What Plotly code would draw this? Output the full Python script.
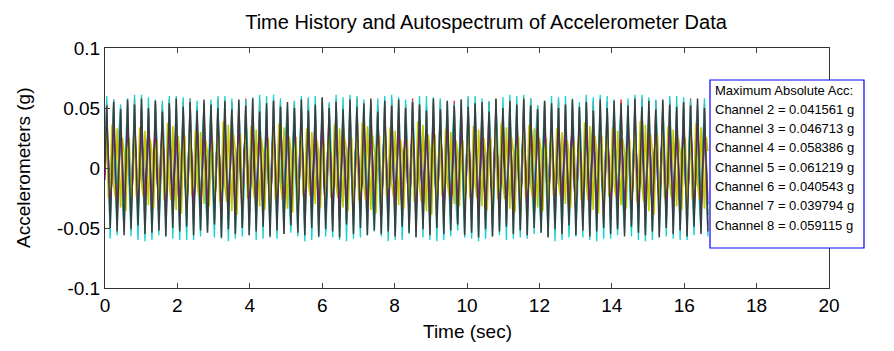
import numpy as np
import plotly.graph_objects as go

# ---------------- data (accelerations in milli-g) ----------------
dt = 0.048  # sampling interval (s)

ch8_mg = [
 0,52,1,-50, -1,55,0,-53, 1,49,-1,-56, 0,57,2,-51, -1,53,0,-48, 1,58,-1,-55,
 0,50,1,-54, -1,56,0,-52, 2,47,-1,-57, 0,54,1,-50, -1,58,0,-53, 1,51,-2,-49,
 0,55,1,-56, -1,48,0,-52, 1,57,-1,-54, 0,53,2,-47, -1,50,0,-58, 1,56,-1,-51,
 0,49,1,-55, -1,57,0,-50, 2,52,-1,-56, 0,58,1,-53, -1,47,0,-49, 1,54,-2,-57,
 0,56,1,-52, -1,51,0,-55, 1,55,-1,-48, 0,50,2,-54, -1,57,0,-56, 1,48,-1,-50,
 0,53,1,-57, -1,59,0,-51, 2,50,-1,-53, 0,55,1,-58, -1,49,0,-47, 1,57,-2,-55,
 0,51,1,-50, -1,54,0,-56, 1,58,-1,-52, 0,47,2,-55, -1,56,0,-53, 1,52,-1,-57,
 0,57,1,-49, -1,50,0,-54, 2,55,-1,-58, 0,53,1,-51, -1,48,0,-56, 1,58,-2,-50,
 0,49,1,-55, -1,56,0,-52, 1,52,-1,-47, 0,57,2,-56, -1,51,0,-54, 1,54,-1,-58,
 0,55,1,-51, -1,47,0,-57, 2,58,-1,-53, 0,50,1,-49, -1,56,0,-55, 1,53,-2,-52,
 0,58,1,-56, -1,52,0,-50, 1,49,-1,-54, 0,56,2,-58, -1,54,0,-51, 1,50,-1,-55,
 0,53,1,-48, -1,57,0,-56, 2,51,-1,-52, 0,55,1,-57, -1,48,0,-53, 1,57,-2,-50,
 0,50,1,-55, -1,56,0,-51, 1,54,-1,-57, 0,52,2,-49, -1,58,0,-54, 1,51,-1,-56,
 0,56,1,-53, -1,49,0,-58, 2,57,-1,-50, 0,53,1,-55, -1,51,0,-52, 1,55,-2,-57,
 0,52,1,-49, -1,58,0,-55, 1,50,-1,-53,
]

ch5_mg = [
 11,60,-11,-59, 21,57,-21,-56, 30,53,-30,-53, 21,58,-21,-57, 11,61,-11,-60, 0,61,0,-61,
 -11,59,11,-60, -21,57,21,-56, -20,56,21,-57, -10,60,11,-59, 1,60,0,-60, 11,59,-10,-60,
 10,58,-11,-60, 22,56,-20,-57, 29,54,-30,-52, 20,57,-22,-58, 12,60,-11,-59, 1,60,0,-61,
 -10,58,11,-59, -22,56,20,-57, -21,57,20,-56, -11,59,10,-60, 0,61,1,-59, 12,60,-11,-58,
 11,61,-10,-59, 21,58,-21,-55, 31,52,-29,-54, 21,56,-20,-57, 10,60,-12,-61, 0,59,1,-60,
 -12,60,10,-58, -20,58,21,-57, -21,55,22,-58, -10,61,11,-60, 1,59,-1,-61, 10,61,-11,-59,
 11,60,-11,-58, 21,57,-22,-56, 30,54,-30,-53, 21,58,-20,-57, 11,60,-11,-61, 0,61,0,-60,
 -11,59,12,-60, -21,57,21,-55, -20,56,21,-57, -10,60,11,-58, 1,60,0,-60, 11,59,-10,-61,
 10,58,-11,-60, 22,56,-20,-57, 29,54,-30,-52, 20,57,-22,-58, 12,60,-11,-59, 1,60,0,-61,
 -10,58,11,-59, -22,56,20,-57, -21,57,20,-56, -11,59,10,-60, 0,61,1,-59, 12,60,-11,-58,
 11,61,-10,-59, 21,58,-21,-55, 31,52,-29,-54, 21,56,-20,-57, 10,60,-12,-61, 0,59,1,-60,
 -12,60,10,-58, -20,58,21,-57, -21,55,22,-58, -10,61,11,-60, 1,59,-1,-61, 10,61,-11,-59,
 11,60,-11,-59, 21,57,-21,-56, 30,53,-30,-53, 21,58,-21,-57, 11,61,-11,-60, 0,61,0,-61,
 -11,59,11,-60, -21,57,21,-56, -20,56,21,-57, -10,60,11,-59, 1,60,0,-60, 11,59,-10,-60,
 21,57,-21,-56, 30,53,-30,-53, 21,58,-21,-57,
]

ch7_mg = [
 0,33,-25,-14,36,-14,-25,33,1,-33,25,14,-36,14,25,-33,
 0,31,-24,-13,34,-13,-24,31,-1,-31,24,13,-34,13,24,-31,
 1,35,-27,-15,38,-15,-27,35,0,-35,27,15,-38,15,27,-35,
 0,30,-23,-12,32,-12,-23,30,1,-30,23,12,-32,12,23,-30,
 -1,36,-28,-15,39,-15,-28,36,0,-36,28,15,-39,15,28,-36,
 0,32,-25,-13,35,-13,-25,32,-1,-32,25,13,-35,13,25,-32,
 1,34,-26,-14,37,-14,-26,34,0,-34,26,14,-37,14,26,-34,
 0,30,-23,-13,33,-13,-23,30,1,-30,23,13,-33,13,23,-30,
 0,33,-25,-14,36,-14,-25,33,0,-33,25,14,-36,14,25,-33,
 -1,35,-27,-15,38,-15,-27,35,1,-35,27,15,-38,15,27,-35,
 0,31,-24,-13,34,-13,-24,31,0,-31,24,13,-34,13,24,-31,
 1,36,-28,-15,39,-15,-28,36,-1,-36,28,15,-39,15,28,-36,
 0,30,-23,-12,32,-12,-23,30,0,-30,23,12,-32,12,23,-30,
 0,32,-25,-13,35,-13,-25,32,1,-32,25,13,-35,13,25,-32,
 -1,34,-26,-14,37,-14,-26,34,0,-34,26,14,-37,14,26,-34,
 0,33,-25,-14,36,-14,-25,33,-1,-33,25,14,-36,14,25,-33,
 1,30,-23,-13,33,-13,-23,30,0,-30,23,13,-33,13,23,-30,
 0,35,-27,-15,38,-15,-27,35,1,-35,27,15,-38,15,27,-35,
 0,31,-24,-13,34,-13,-24,31,0,-31,24,13,-34,13,24,-31,
 -1,36,-28,-15,39,-15,-28,36,0,-36,28,15,-39,15,28,-36,
 0,32,-25,-13,35,-13,-25,32,1,-32,25,13,-35,13,25,-32,
 0,34,-26,-14,37,-14,-26,34,-1,-34,26,14,
]

ch4_mg = [
 3,54,-2,-44, 2,57,-3,-47, 3,50,-2,-41, 2,55,-3,-46, 3,58,-2,-43, 2,52,-3,-48,
 3,49,-2,-45, 2,56,-3,-42, 3,53,-2,-47, 2,57,-3,-44, 3,51,-2,-49, 2,55,-3,-41,
 3,58,-2,-46, 2,50,-3,-43, 3,54,-2,-48, 2,52,-3,-45, 3,57,-2,-42, 2,49,-3,-47,
 3,55,-2,-44, 2,53,-3,-49, 3,58,-2,-41, 2,51,-3,-46, 3,56,-2,-43, 2,50,-3,-48,
 3,57,-2,-45, 2,54,-3,-42, 3,49,-2,-47, 2,55,-3,-44, 3,52,-2,-50, 2,58,-3,-41,
 3,50,-2,-46, 2,56,-3,-43, 3,53,-2,-48, 2,57,-3,-45, 3,51,-2,-42, 2,54,-3,-47,
 3,58,-2,-44, 2,49,-3,-49, 3,55,-2,-41, 2,52,-3,-46, 3,56,-2,-43, 2,57,-3,-48,
 3,50,-2,-45, 2,53,-3,-42, 3,58,-2,-47, 2,54,-3,-44, 3,51,-2,-49, 2,55,-3,-41,
 3,57,-2,-46, 2,49,-3,-43, 3,56,-2,-48, 2,52,-3,-45, 3,58,-2,-42, 2,53,-3,-47,
 3,50,-2,-44, 2,55,-3,-49, 3,57,-2,-41, 2,51,-3,-46, 3,54,-2,-43, 2,49,-3,-48,
 3,56,-2,-45, 2,58,-3,-42, 3,52,-2,-47, 2,55,-3,-44, 3,50,-2,-50, 2,57,-3,-41,
 3,53,-2,-46, 2,54,-3,-43, 3,49,-2,-48, 2,58,-3,-45, 3,56,-2,-42, 2,51,-3,-47,
 3,55,-2,-44, 2,52,-3,-49, 3,57,-2,-41, 2,50,-3,-46, 3,54,-2,-43, 2,58,-3,-48,
 3,49,-2,-45, 2,56,-3,-42, 3,53,-2,-47, 2,57,-3,-44, 3,51,-2,-49, 2,55,-3,-41,
 3,58,-2,-46, 2,50,-3,-43, 3,54,-2,-48,
]

ch6_mg = [
 -10,28,11,-27, -12,32,11,-31, -9,25,10,-26, -12,34,12,-33, -10,29,10,-28, -9,27,10,-26,
 -11,31,11,-30, -9,26,9,-25, -13,36,12,-35, -10,29,11,-28, -8,24,9,-23, -12,33,11,-32,
 -10,30,11,-29, -13,35,12,-40, -9,27,10,-26, -11,31,11,-30, -10,28,10,-27, -9,25,9,-26,
 -10,28,11,-27, -12,32,11,-31, -9,25,10,-26, -12,34,12,-33, -10,29,10,-28, -9,27,10,-26,
 -11,31,11,-30, -9,26,9,-25, -13,36,12,-35, -10,29,11,-28, -8,24,9,-23, -12,33,11,-32,
 -10,30,11,-29, -13,35,12,-38, -9,27,10,-26, -11,31,11,-30, -10,28,10,-27, -9,25,9,-26,
 -10,28,11,-27, -12,32,11,-31, -9,25,10,-26, -12,34,12,-33, -10,29,10,-28, -9,27,10,-26,
 -11,31,11,-30, -9,26,9,-25, -13,36,12,-35, -10,29,11,-28, -8,24,9,-23, -12,33,11,-32,
 -10,30,11,-29, -13,35,12,-37, -9,27,10,-26, -11,31,11,-30, -10,28,10,-27, -9,25,9,-26,
 -10,28,11,-27, -12,32,11,-31, -9,25,10,-26, -12,34,12,-33, -10,29,10,-28, -9,27,10,-26,
 -11,31,11,-30, -9,26,9,-25, -13,36,12,-35, -10,29,11,-28, -8,24,9,-23, -12,33,11,-32,
 -10,30,11,-29, -13,35,12,-36, -9,27,10,-26, -11,31,11,-30, -10,28,10,-27, -9,25,9,-26,
 -10,28,11,-27, -12,32,11,-31, -9,25,10,-26, -12,34,12,-33, -10,29,10,-28, -9,27,10,-26,
 -11,31,11,-30, -9,26,9,-25, -13,36,12,-35, -10,29,11,-28, -8,24,9,-23, -12,33,11,-32,
 -10,30,11,-29, -13,35,12,-39, -9,27,10,-26,
]

ch2_mg = [
 13,30,-13,-29, 12,27,-12,-28, 15,34,-14,-33, 12,28,-13,-29, 14,32,-14,-31, 11,26,-12,-27,
 15,35,-15,-34, 12,29,-12,-28, 14,31,-13,-30, 11,25,-11,-26, 15,34,-17,-41, 13,30,-13,-29,
 12,27,-12,-26, 16,37,-16,-36, 13,29,-13,-30, 14,32,-14,-31, 11,26,-11,-25, 15,34,-14,-33,
 13,30,-13,-29, 12,27,-12,-28, 15,34,-14,-33, 12,28,-13,-29, 14,32,-14,-31, 11,26,-12,-27,
 15,35,-15,-34, 12,29,-12,-28, 14,31,-13,-30, 11,25,-11,-26, 15,34,-16,-38, 13,30,-13,-29,
 12,27,-12,-26, 16,37,-16,-36, 13,29,-13,-30, 14,32,-14,-31, 11,26,-11,-25, 15,34,-14,-33,
 13,30,-13,-29, 12,27,-12,-28, 15,34,-14,-33, 12,28,-13,-29, 14,32,-14,-31, 11,26,-12,-27,
 15,35,-15,-34, 12,29,-12,-28, 14,31,-13,-30, 11,25,-11,-26, 15,34,-16,-37, 13,30,-13,-29,
 12,27,-12,-26, 16,37,-16,-36, 13,29,-13,-30, 14,32,-14,-31, 11,26,-11,-25, 15,34,-14,-33,
 13,30,-13,-29, 12,27,-12,-28, 15,34,-14,-33, 12,28,-13,-29, 14,32,-14,-31, 11,26,-12,-27,
 15,35,-15,-34, 12,29,-12,-28, 14,31,-13,-30, 11,25,-11,-26, 15,34,-16,-39, 13,30,-13,-29,
 12,27,-12,-26, 16,37,-16,-36, 13,29,-13,-30, 14,32,-14,-31, 11,26,-11,-25, 15,34,-14,-33,
 13,30,-13,-29, 12,27,-12,-28, 15,34,-14,-33, 12,28,-13,-29, 14,32,-14,-31, 11,26,-12,-27,
 15,35,-15,-34, 12,29,-12,-28, 14,31,-13,-30, 11,25,-11,-26, 15,34,-16,-36, 13,30,-13,-29,
 12,27,-12,-26, 16,37,-16,-36, 13,29,-13,-30,
]

ch3_mg = [
 -6,35,6,-36, -6,32,5,-33, -7,40,7,-39, -6,34,6,-35, -7,42,7,-41, -5,31,6,-32,
 -6,38,6,-37, -8,46,8,-44, -6,33,6,-34, -7,39,7,-40, -6,36,6,-35, -6,37,6,-38,
 -7,41,7,-42, -5,32,6,-31, -7,38,7,-39, -6,35,6,-36, -7,43,7,-45, -6,34,5,-33,
 -6,35,6,-36, -6,32,5,-33, -7,40,7,-39, -6,34,6,-35, -7,42,7,-41, -5,31,6,-32,
 -6,38,6,-37, -8,44,8,-44, -6,33,6,-34, -7,39,7,-40, -6,36,6,-35, -6,37,6,-38,
 -7,41,7,-42, -5,32,6,-31, -7,38,7,-39, -6,35,6,-36, -7,43,7,-45, -6,34,5,-33,
 -6,35,6,-36, -6,32,5,-33, -7,40,7,-39, -6,34,6,-35, -7,42,7,-41, -5,31,6,-32,
 -6,38,6,-37, -8,45,8,-44, -6,33,6,-34, -7,39,7,-40, -6,36,6,-35, -6,37,6,-38,
 -7,41,7,-42, -5,32,6,-31, -7,38,7,-39, -6,35,6,-36, -7,43,7,-45, -6,34,5,-33,
 -6,35,6,-36, -6,32,5,-33, -7,40,7,-39, -6,34,6,-35, -7,42,7,-41, -5,31,6,-32,
 -6,38,6,-37, -8,46,8,-44, -6,33,6,-34, -7,39,7,-40, -6,36,6,-35, -6,37,6,-38,
 -7,41,7,-42, -5,32,6,-31, -7,38,7,-39, -6,35,6,-36, -7,43,7,-45, -6,34,5,-33,
 -6,35,6,-36, -6,32,5,-33, -7,40,7,-39, -6,34,6,-35, -7,42,7,-41, -5,31,6,-32,
 -6,38,6,-37, -8,44,8,-44, -6,33,6,-34, -7,39,7,-40, -6,36,6,-35, -6,37,6,-38,
 -7,41,7,-42, -5,32,6,-31, -7,38,7,-39,
]

channel_ids = [2, 3, 4, 5, 6, 7, 8]
channel_data = [ch2_mg, ch3_mg, ch4_mg, ch5_mg, ch6_mg, ch7_mg, ch8_mg]
max_abs_acc = [0.041561, 0.046713, 0.058386, 0.061219, 0.040543, 0.039794, 0.059115]
line_colors = ["#0000ff", "#008000", "#ff0000", "#10d0d0", "#c000c0", "#c8c800", "#3c3c3c"]
line_widths = [1.2, 1.2, 1.2, 1.3, 1.2, 1.6, 1.5]

x_ticks = [0, 2, 4, 6, 8, 10, 12, 14, 16, 18, 20]
y_ticks = [-0.1, -0.05, 0, 0.05, 0.1]
y_tick_labels = ["-0.1", "-0.05", "0", "0.05", "0.1"]

FONT = "Liberation Sans, Arial, sans-serif"
W, H = 894, 351
L, R, T, B = 97, 821, 40, 280   # plot area in pixels

def px_x(px):
    return (px - L) / (R - L)

def px_y(py):
    return (B - py) / (B - T)

fig = go.Figure()
for cid, vals, col, lw in zip(channel_ids, channel_data, line_colors, line_widths):
    v = np.array(vals, dtype=float) / 1000.0
    t = np.arange(len(v)) * dt
    fig.add_trace(go.Scatter(x=t, y=v, mode="lines", name=f"Channel {cid}",
                             line=dict(color=col, width=lw), hoverinfo="skip"))

# text box with the maximum absolute accelerations
fig.add_shape(type="rect", xref="paper", yref="paper",
              x0=px_x(702), x1=px_x(856), y0=px_y(240), y1=px_y(72),
              line=dict(color="#0000ff", width=1.2), fillcolor="white", layer="above")

lines = ["Maximum Absolute Acc:"] + [f"Channel {c} = {m:.6f} g" for c, m in zip(channel_ids, max_abs_acc)]
for i, txt in enumerate(lines):
    fig.add_annotation(xref="paper", yref="paper", x=px_x(705), y=px_y(82 + i * 19.3),
                       xanchor="left", yanchor="middle", text=txt, showarrow=False,
                       font=dict(family=FONT, size=13, color="black"))

# axis titles
fig.add_annotation(xref="paper", yref="paper", x=px_x(15), y=px_y((T + B) / 2),
                   text="Accelerometers (g)", textangle=-90, showarrow=False,
                   xanchor="center", yanchor="middle",
                   font=dict(family=FONT, size=19, color="black"))
fig.add_annotation(xref="paper", yref="paper", x=px_x((L + R) / 2), y=px_y(323),
                   text="Time (sec)", showarrow=False,
                   xanchor="center", yanchor="middle",
                   font=dict(family=FONT, size=19, color="black"))

fig.update_layout(
    width=W, height=H,
    margin=dict(l=L, r=W - R, t=T, b=H - B),
    plot_bgcolor="white", paper_bgcolor="white",
    showlegend=False,
    title=dict(text="Time History and Autospectrum of Accelerometer Data",
               x=478 / W, xanchor="center", xref="container",
               y=1 - 14 / H, yanchor="middle", yref="container",
               font=dict(family=FONT, size=20, color="black")),
    font=dict(family=FONT, color="black"),
)
fig.update_xaxes(range=[0, 20], tickvals=x_ticks, ticks="inside", ticklen=5,
                 showline=True, linecolor="#333333", linewidth=1, mirror="ticks",
                 showgrid=False, zeroline=False, tickfont=dict(size=19))
fig.update_yaxes(range=[-0.1, 0.1], tickvals=y_ticks, ticktext=y_tick_labels,
                 ticks="inside", ticklen=5,
                 showline=True, linecolor="#333333", linewidth=1, mirror="ticks",
                 showgrid=False, zeroline=False, tickfont=dict(size=19))

fig.write_html("out.html")
